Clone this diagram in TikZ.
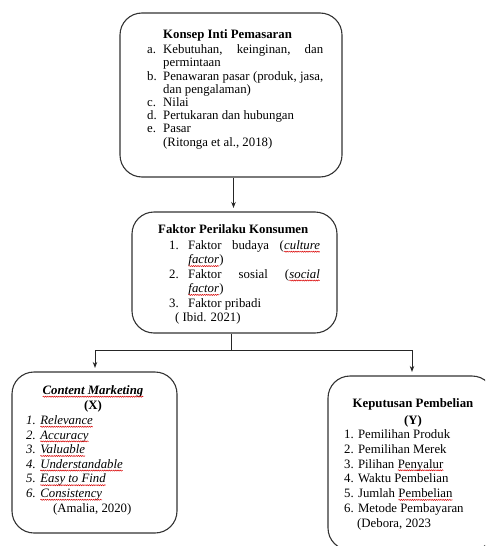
\documentclass[tikz,border=0pt]{standalone}
\usepackage{fontspec}
\setmainfont{Liberation Serif}
\usetikzlibrary{arrows.meta,decorations.pathmorphing}
\newcommand{\sqg}[1]{\tikz[baseline=(sq.base)]{\node[inner sep=0pt,outer sep=0pt,anchor=center,draw=none](sq){#1};\draw[red!85!black,line width=0.5pt,decorate,decoration={snake,amplitude=0.55pt,segment length=2.2pt}]([yshift=-2.2pt]sq.base west)--([yshift=-2.2pt]sq.base east);}}
\begin{document}
\begin{tikzpicture}[x=1pt,y=-1pt,
  box/.style={draw=black!80,line width=1.1pt,rounded corners=22pt,inner sep=0pt},
  txt/.style={inner sep=0pt,align=left,anchor=north west},
  ttl/.style={inner sep=0pt,align=center,anchor=north},
  conn/.style={line width=0.9pt,draw=black!85},
  arr/.style={conn,-{Stealth[length=6pt,width=4.5pt]},shorten >=3.5pt}]
\useasboundingbox (0,0) rectangle (485,546);
\clip (0,0) rectangle (485,546);
% boxes
\node[box,minimum width=222pt,minimum height=164pt] (b1) at (231,95) {};
\node[box,minimum width=205pt,minimum height=121pt] (b2) at (234.5,272.5) {};
\node[box,minimum width=165pt,minimum height=161pt] (b3) at (94.5,452.5) {};
\node[box,minimum width=166pt,minimum height=174pt] (b4) at (411,463) {};
% box 1 text
\node[txt,font=\fontsize{12.8}{13.2}\selectfont] (t1) at (163,29) {%
\textbf{Konsep Inti Pemasaran}\\[2.5pt]
\llap{\makebox[16pt][l]{a.}}\makebox[160pt][s]{Kebutuhan,\hfill keinginan,\hfill dan}\\
permintaan\\
\llap{\makebox[16pt][l]{b.}}\makebox[160pt][s]{Penawaran\hfill pasar\hfill (produk,\hfill jasa,}\\
dan pengalaman)\\
\llap{\makebox[16pt][l]{c.}}Nilai\\
\llap{\makebox[16pt][l]{d.}}Pertukaran dan hubungan\\
\llap{\makebox[16pt][l]{e.}}Pasar\\
(Ritonga et al., 2018)};
% box 2 text
\node[txt,font=\fontsize{12.8}{14.4}\selectfont] (t2) at (158,224.5) {%
\textbf{Faktor Perilaku Konsumen}\\[1.5pt]
\hspace*{11pt}\makebox[19pt][l]{1.}\makebox[132pt][s]{Faktor\hfill budaya\hfill (\textit{\sqg{culture}}}\\
\hspace*{30pt}\textit{\sqg{factor}})\\
\hspace*{11pt}\makebox[19pt][l]{2.}\makebox[132pt][s]{Faktor\hfill sosial\hfill (\textit{\sqg{social}}}\\
\hspace*{30pt}\textit{\sqg{factor}})\\
\hspace*{11pt}\makebox[19pt][l]{3.}Faktor pribadi\\
\hspace*{17pt}( Ibid. 2021)};
% box 3 text
\node[ttl,font=\fontsize{12.8}{15}\selectfont] (t3a) at (93,385.4) {%
\textbf{\textit{\sqg{Content Marketing}}}\\
\textbf{(X)}};
\node[txt,font=\fontsize{12.8}{14.6}\selectfont] (t3b) at (26,415.5) {%
\textit{1. \sqg{Relevance}}\\
\textit{2. \sqg{Accuracy}}\\
\textit{3. \sqg{Valuable}}\\
\textit{4. \sqg{Understandable}}\\
\textit{5. \sqg{Easy to Find}}\\
\textit{6. \sqg{Consistency}}\\
\hspace*{27pt}(Amalia, 2020)};
% box 4 text
\node[ttl,font=\fontsize{12.8}{17}\selectfont] (t4a) at (413,398.4) {%
\textbf{Keputusan Pembelian}\\
\textbf{(Y)}};
\node[txt,font=\fontsize{12.8}{14.8}\selectfont] (t4b) at (344,429.4) {%
1. Pemilihan Produk\\
2. Pemilihan Merek\\
3. Pilihan \sqg{Penyalur}\\
4. Waktu Pembelian\\
5. Jumlah \sqg{Pembelian}\\
6. Metode Pembayaran\\
\hspace*{13pt}(Debora, 2023};
% connectors
\coordinate (j) at (231,350);
\coordinate (jl) at (95,350);
\coordinate (jr) at (412,350);
\coordinate (a1) at (233.5,177);
\draw[arr] (b1.south -| a1) -- (b2.north -| a1);
\draw[conn] (b2.south -| j) -- (j);
\draw[conn] (jl) -- (jr);
\draw[arr] (jl) -- (b3.north -| jl);
\draw[arr] (jr) -- (b4.north -| jr);
\end{tikzpicture}
\end{document}
